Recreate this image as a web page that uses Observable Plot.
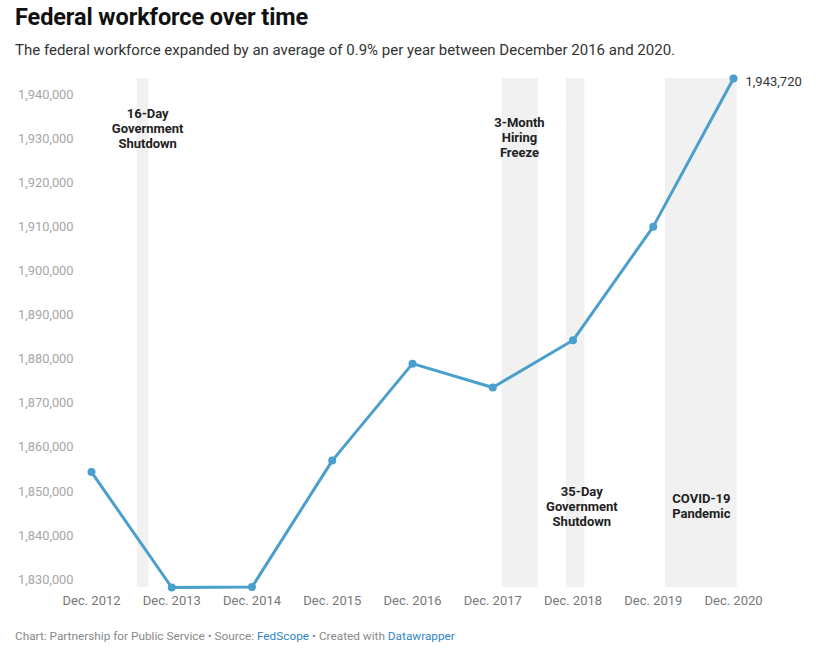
<!DOCTYPE html>
<html>
<head>
<meta charset="utf-8">
<script src="https://cdn.jsdelivr.net/npm/d3@7"></script>
<script src="https://cdn.jsdelivr.net/npm/@observablehq/plot@0.6"></script>
<style>
  html, body { margin: 0; padding: 0; background: #fff; }
  body { width: 816px; height: 650px; position: relative; font-family: Roboto, "Noto Sans", sans-serif; overflow: hidden; }
  #title { position: absolute; left: 15px; top: 3px; font-size: 23.5px; font-weight: 700; color: #111; letter-spacing: -0.1px; }
  #subtitle { position: absolute; left: 15px; top: 41px; font-size: 15px; color: #333; }
  #chart { position: absolute; left: 0; top: 65px; }
  #footer { position: absolute; left: 15px; top: 629px; font-size: 11.8px; color: #888; }
  #footer a { color: #2f86c8; text-decoration: none; }
  #chart [aria-label^="y-axis"] text { fill: #a6a6a6; }
  #chart [aria-label^="x-axis"] text { fill: #777; }
</style>
</head>
<body>
<div id="title">Federal workforce over time</div>
<div id="subtitle">The federal workforce expanded by an average of 0.9% per year between December 2016 and 2020.</div>
<div id="chart"></div>
<div id="footer">Chart: Partnership for Public Service • Source: <a>FedScope</a> • Created with <a>Datawrapper</a></div>
<script>
// ---- data ----
const years = [2012, 2013, 2014, 2015, 2016, 2017, 2018, 2019, 2020];
const yearLabels = ["Dec. 2012", "Dec. 2013", "Dec. 2014", "Dec. 2015", "Dec. 2016", "Dec. 2017", "Dec. 2018", "Dec. 2019", "Dec. 2020"];
const workforce = [1854400, 1828200, 1828300, 1857000, 1879000, 1873600, 1884300, 1910100, 1943720];
const yTicks = [1830000, 1840000, 1850000, 1860000, 1870000, 1880000, 1890000, 1900000, 1910000, 1920000, 1930000, 1940000];

// shaded event periods (in year units on the x scale)
const bandStart = [2012.57, 2017.118, 2017.919, 2019.153];
const bandEnd   = [2012.714, 2017.566, 2018.147, 2020.046];

// event annotations
const noteText = ["16-Day\nGovernment\nShutdown", "3-Month\nHiring\nFreeze", "35-Day\nGovernment\nShutdown", "COVID-19\nPandemic"];
const noteX = [2012.70, 2017.333, 2018.11, 2019.60];
const noteY = [1932370, 1930400, 1846650, 1846760];

// ---- build tables ----
const series = years.map((y, i) => ({year: y, value: workforce[i]}));
const bands = bandStart.map((s, i) => ({start: s, end: bandEnd[i]}));
const notes = noteText.map((t, i) => ({text: t, x: noteX[i], y: noteY[i]}));
const last = [series[series.length - 1]];
const lineColor = "#4a9fcc";

const chart = Plot.plot({
  width: 816,
  height: 550,
  marginTop: 13,
  marginBottom: 28,
  marginLeft: 91,
  marginRight: 83,
  style: { fontFamily: "Roboto, sans-serif", background: "transparent", color: "#777", overflow: "visible" },
  x: {
    domain: [years[0], years[years.length - 1]],
    ticks: years,
    tickFormat: (d) => yearLabels[years.indexOf(d)],
    tickSize: 0,
    tickPadding: 8,
    label: null
  },
  y: {
    domain: d3.extent(workforce),
    ticks: yTicks,
    tickFormat: d3.format(","),
    tickSize: 0,
    tickPadding: 18,
    label: null
  },
  marks: [
    Plot.rect(bands, {x1: "start", x2: "end", fill: "#f1f1f1"}),
    Plot.line(series, {x: "year", y: "value", stroke: lineColor, strokeWidth: 3, strokeLinejoin: "round"}),
    Plot.dot(series, {x: "year", y: "value", r: 4, fill: lineColor, stroke: "none"}),
    Plot.text(last, {x: "year", y: "value", text: (d) => d3.format(",")(d.value), dx: 12, dy: 3, textAnchor: "start", fill: "#333", fontSize: 13}),
    Plot.text(notes, {x: "x", y: "y", text: "text", fill: "#222", fontSize: 13, fontWeight: 700, lineHeight: 1.15, textAnchor: "middle"})
  ]
});
document.getElementById("chart").appendChild(chart);
// font sizes of axis labels
d3.select(chart).selectAll('[aria-label^="y-axis"] text').style("font-size", "12.8px");
d3.select(chart).selectAll('[aria-label^="x-axis"] text').style("font-size", "13px");
</script>
</body>
</html>
